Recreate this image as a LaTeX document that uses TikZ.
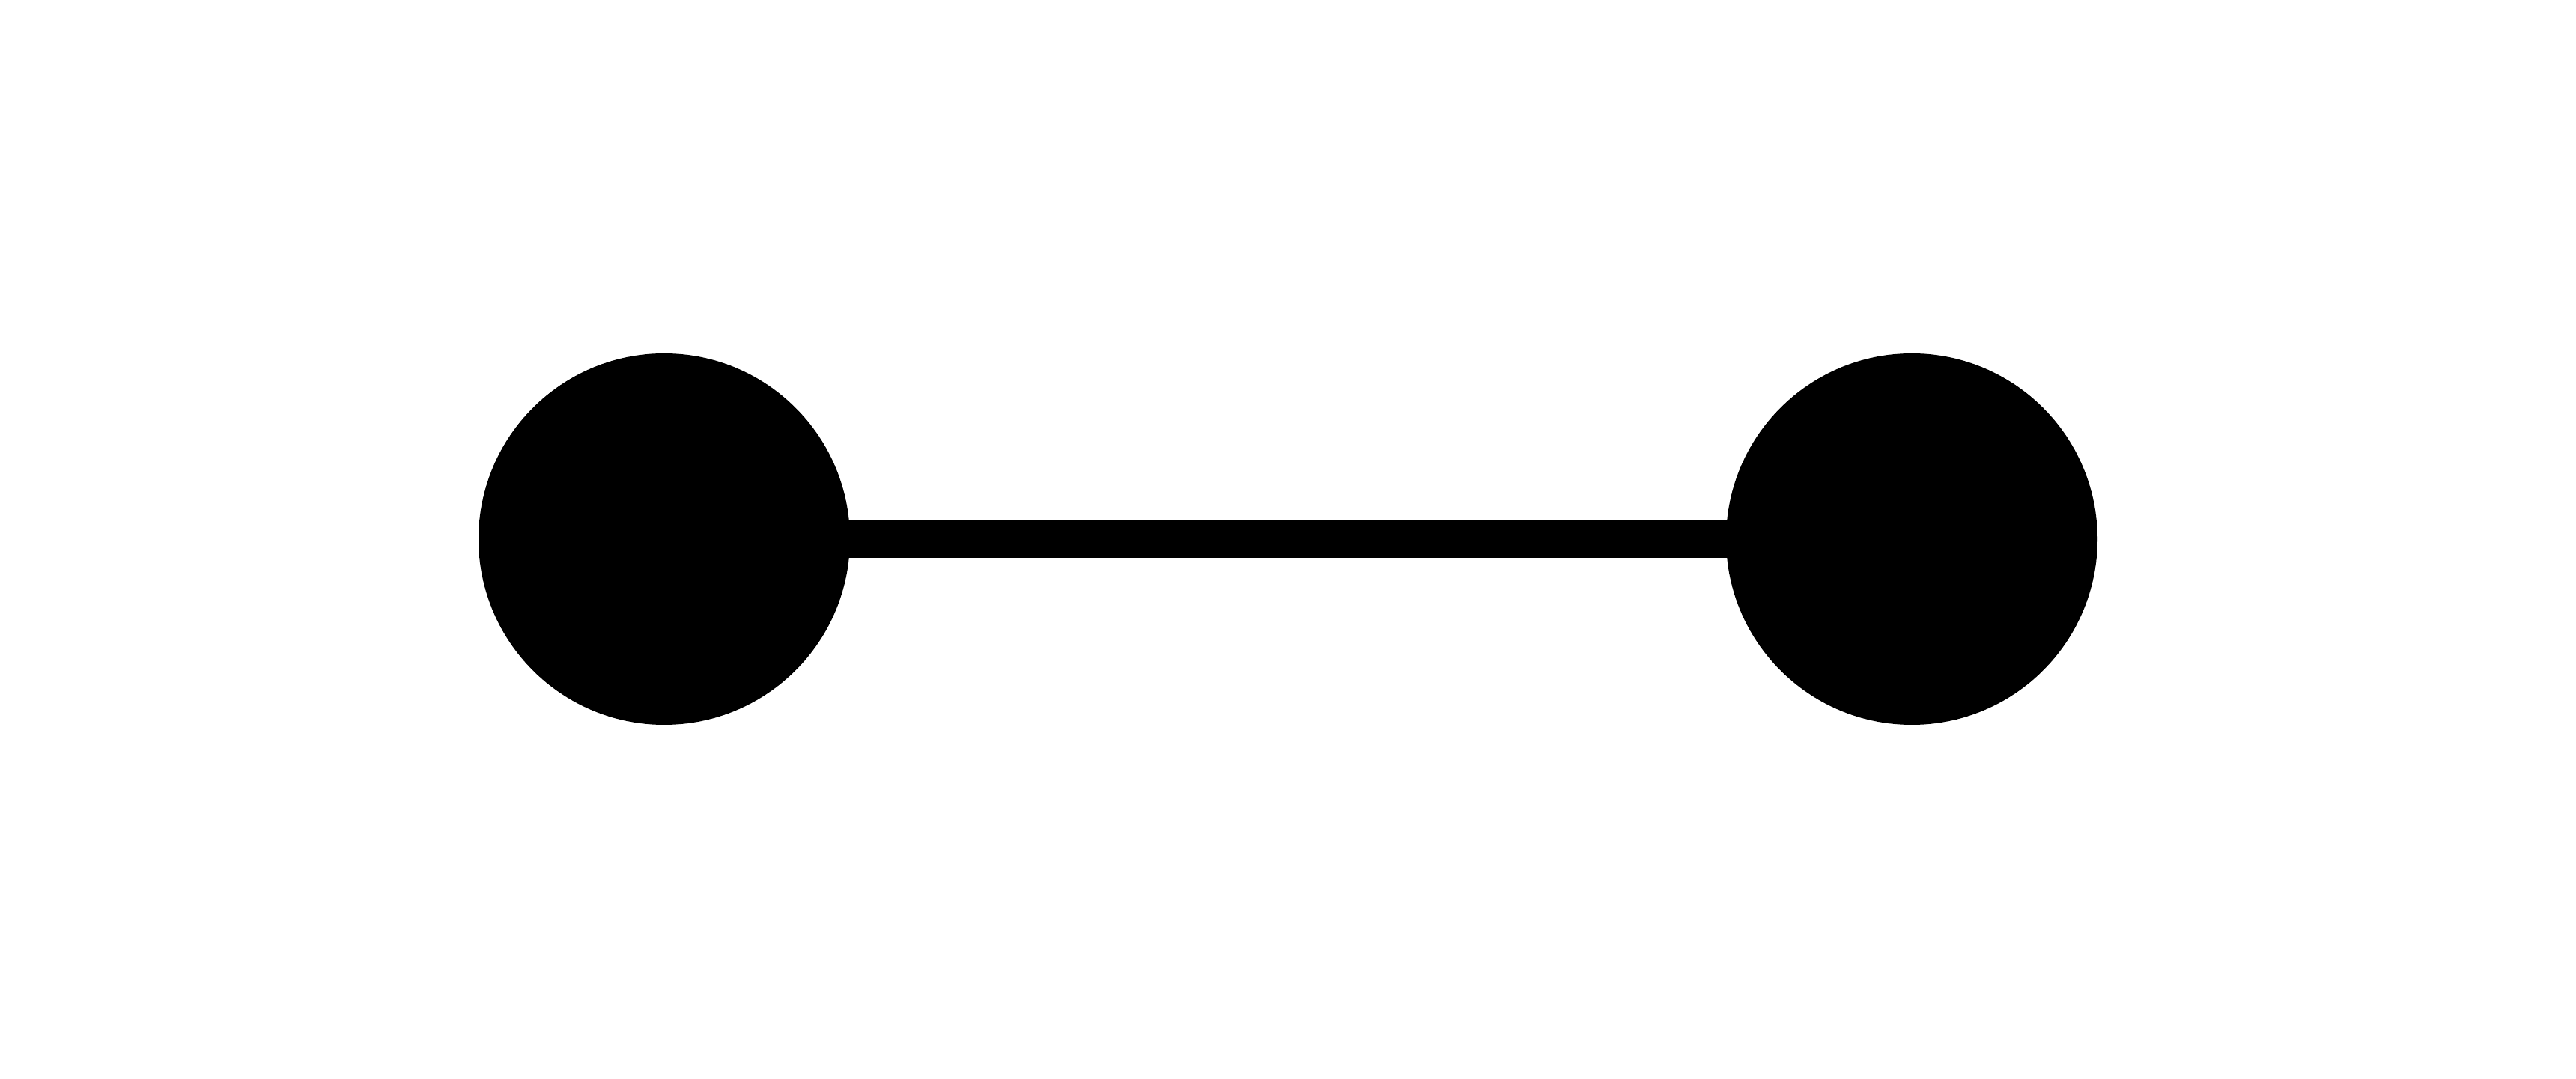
\documentclass[tikz,border=0pt]{standalone}
\usepackage{tikz}
\usetikzlibrary{calc}
\tikzset{dot/.style={circle,fill=black,inner sep=0pt,minimum size=4.96cm}}

\begin{document}
\begin{tikzpicture}
\useasboundingbox (0,0) rectangle (34.4,14.4);
\node[dot] (a) at (8.87,7.2) {};
\node[dot] (b) at (25.53,7.2) {};
\draw[black,line width=0.51cm] (a.center)--(b.center);
\end{tikzpicture}
\end{document}
